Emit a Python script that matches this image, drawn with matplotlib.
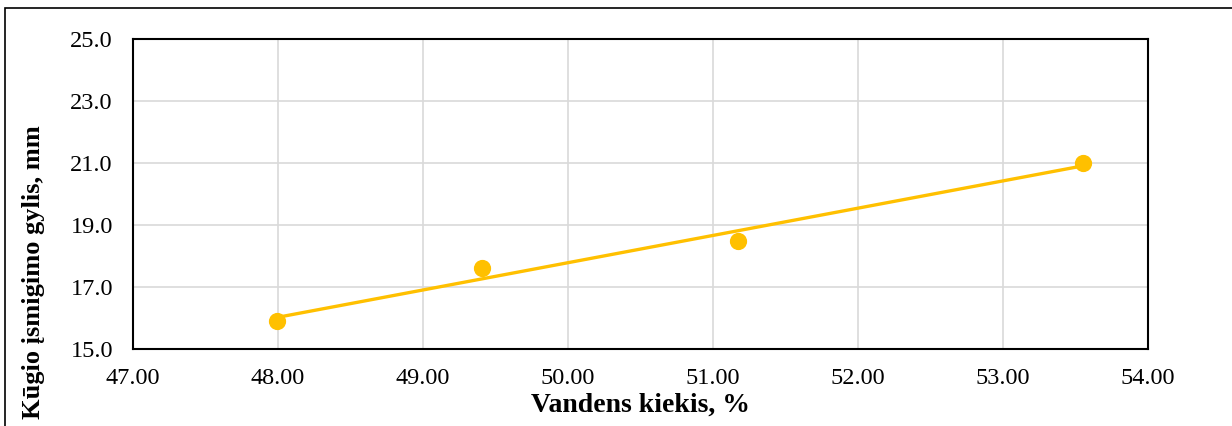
import matplotlib.pyplot as plt
import matplotlib.patches as mpatches
import numpy as np

water = [47.99, 49.41, 51.17, 53.55]
depth = [15.9, 17.6, 18.5, 21.0]
x_ticks = [47, 48, 49, 50, 51, 52, 53, 54]
y_ticks = [15, 17, 19, 21, 23, 25]

plt.rcParams['font.family'] = ['Liberation Serif', 'DejaVu Serif']

fig = plt.figure(figsize=(12.32, 4.26), dpi=100)
ax = fig.add_axes([133 / 1232, 1 - 349 / 426, (1148 - 133) / 1232, (349 - 39) / 426])

# outer chart border (cropped on the right/bottom like in the source)
fig.patches.append(mpatches.Rectangle((5 / 1232, -0.05), 1.1, 1 - 8 / 426 + 0.05,
                                      transform=fig.transFigure, fill=False,
                                      edgecolor='black', linewidth=1.2))

yellow = '#FFC000'
ax.scatter(water, depth, s=130, color=yellow, zorder=3, clip_on=False)

# linear trendline
k, b = np.polyfit(water, depth, 1)
xs = np.array([min(water), max(water)])
ax.plot(xs, k * xs + b, color=yellow, linewidth=2.4, zorder=2)

ax.set_xlim(47, 54)
ax.set_ylim(15, 25)
ax.set_xticks(x_ticks)
ax.set_yticks(y_ticks)
ax.set_xticklabels([f"{v:.2f}" for v in x_ticks])
ax.set_yticklabels([f"{v:.1f}" for v in y_ticks])
ax.tick_params(length=0, labelsize=17.5)
ax.tick_params(axis='y', pad=14.5)
ax.tick_params(axis='x', pad=14)
ax.grid(color='#d9d9d9', linewidth=1.2)
ax.set_axisbelow(True)
for s in ax.spines.values():
    s.set_linewidth(1.5)

ax.set_xlabel("Vandens kiekis, %", fontsize=20, fontweight='bold', labelpad=2)
ax.set_ylabel("Kūgio įsmigimo gylis, mm", fontsize=19, fontweight='bold')
# the title sits low in the source, near the bottom edge
ax.yaxis.set_label_coords(-0.0867, 0.248)

fig.savefig("out.png", dpi=100)
